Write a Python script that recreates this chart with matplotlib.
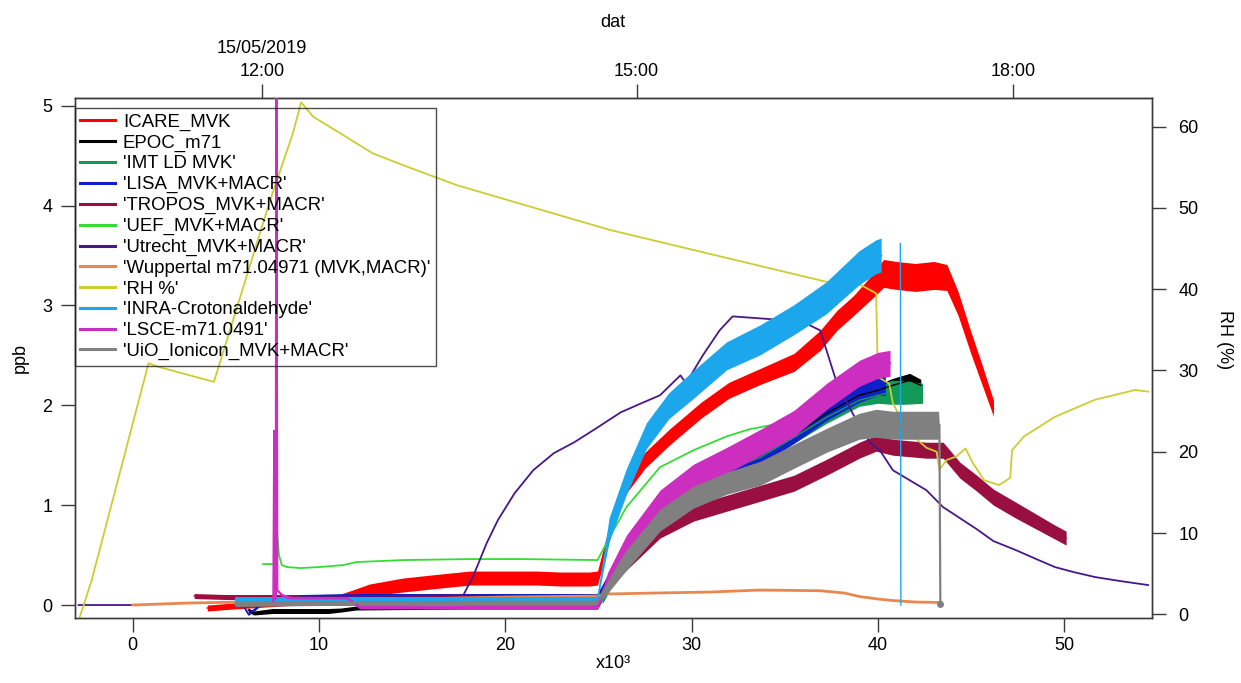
import numpy as np
import matplotlib
matplotlib.use("Agg")
import matplotlib.pyplot as plt
from matplotlib.lines import Line2D

plt.rcParams['font.family'] = ['Liberation Sans', 'DejaVu Sans']

nan = float('nan')

# ---------------- data (x in 10^3 s, ppb / RH %) ----------------
labels = ["ICARE_MVK", "EPOC_m71", "'IMT LD MVK'", "'LISA_MVK+MACR'",
          "'TROPOS_MVK+MACR'", "'UEF_MVK+MACR'", "'Utrecht_MVK+MACR'",
          "'Wuppertal m71.04971 (MVK,MACR)'", "'RH %'", "'INRA-Crotonaldehyde'",
          "'LSCE-m71.0491'", "'UiO_Ionicon_MVK+MACR'"]
colors = ['#ff0000', '#000000', '#11995a', '#1020c8', '#990f40', '#33dd33',
          '#48178a', '#e8874f', '#cccc33', '#1ca6ec', '#cc2ec0', '#808080']

icare_x = [4.0, 4.7, 5.4, 8.0, 11.0, 11.8, 12.7, 14.5, 16.5, 18.1, 20.0, 21.7, 23.0, 24.5, 24.95,
           25.8, 26.5, 27.5, 28.8, 30.5, 32.0, 33.7, 35.5, 36.9, 37.8, 38.7, 39.75, 40.3, 41.0,
           42.0, 43.0, 43.7, 44.3, 45.0, 45.6, 46.2]
icare_y = [-0.03, -0.02, -0.01, 0.02, 0.06, 0.1, 0.15, 0.2, 0.24, 0.27, 0.27, 0.27, 0.26, 0.26, 0.27,
           0.88, 1.2, 1.45, 1.68, 1.95, 2.15, 2.29, 2.43, 2.65, 2.85, 3.0, 3.2, 3.32, 3.3,
           3.28, 3.3, 3.28, 3.02, 2.62, 2.3, 1.97]
icare_w = [0.03, 0.03, 0.03, 0.03, 0.04, 0.05, 0.06, 0.07, 0.07, 0.07, 0.07, 0.07, 0.07, 0.07, 0.07,
           0.08, 0.08, 0.08, 0.08, 0.08, 0.08, 0.08, 0.09, 0.1, 0.1, 0.1, 0.12, 0.14, 0.14,
           0.14, 0.14, 0.13, 0.12, 0.11, 0.1, 0.08]

epoc_x = [6.2, 6.5, 7.5, 8.5, 9.5, 10.5, 11.2, 12.0, 18.0, 24.95, 25.5, 26.5, 28.3, 30.1, 31.9,
          33.7, 35.5, 37.25, 39.0, 40.0, 40.8, 41.7, 42.3]
epoc_y = [-0.05, -0.08, -0.06, -0.06, -0.06, -0.06, -0.05, -0.03, -0.02, -0.02, 0.2, 0.5, 0.92, 1.18, 1.38,
          1.5, 1.7, 1.92, 2.1, 2.15, 2.2, 2.25, 2.2]
epoc_w = [0.02, 0.02, 0.025, 0.025, 0.025, 0.025, 0.02, 0.02, 0.02, 0.02, 0.05, 0.05, 0.05, 0.05, 0.05,
          0.05, 0.05, 0.05, 0.06, 0.06, 0.07, 0.07, 0.06]

imt_x = [25.2, 26.5, 28.3, 30.1, 31.9, 33.7, 35.5, 37.25, 39.0, 40.0, 40.7, 41.5, 42.4]
imt_y = [0.05, 0.5, 0.9, 1.15, 1.35, 1.48, 1.68, 1.88, 2.05, 2.1, 2.13, 2.13, 2.12]
imt_w = [0.04, 0.05, 0.05, 0.05, 0.05, 0.05, 0.06, 0.06, 0.06, 0.08, 0.12, 0.12, 0.1]

lisa_x = [6.0, 6.2, 6.5, 7.0, 9.0, 12.0, 15.0, 18.0, 21.0, 24.95, 25.5, 26.5, 28.3, 30.1, 31.9,
          33.7, 35.5, 37.25, 39.0, 40.0, 40.4]
lisa_y = [-0.03, -0.09, -0.05, 0.03, 0.09, 0.1, 0.1, 0.1, 0.1, 0.1, 0.25, 0.55, 0.98, 1.22, 1.40,
          1.50, 1.72, 1.95, 2.13, 2.2, 2.2]
lisa_w = [0.015, 0.015, 0.015, 0.015, 0.015, 0.015, 0.015, 0.015, 0.015, 0.015, 0.06, 0.08, 0.1, 0.1, 0.1,
          0.1, 0.1, 0.1, 0.1, 0.1, 0.1]

tropos_x = [3.3, 5.0, 8.0, 10.0, 12.0, 15.0, 20.0, 24.95, 25.5, 26.5, 28.3, 30.1, 31.9, 33.7,
            35.5, 37.25, 39.0, 39.9, 40.8, 42.6, 43.5, 44.4, 45.3, 46.2, 47.4, 49.5, 50.1]
tropos_y = [0.09, 0.08, 0.08, 0.08, 0.08, 0.07, 0.07, 0.07, 0.2, 0.42, 0.75, 0.92, 1.02, 1.12,
            1.22, 1.38, 1.55, 1.62, 1.58, 1.55, 1.55, 1.35, 1.22, 1.08, 0.95, 0.73, 0.67]
tropos_w = [0.025, 0.025, 0.025, 0.025, 0.025, 0.025, 0.025, 0.025, 0.05, 0.07, 0.08, 0.08, 0.08, 0.08,
            0.08, 0.08, 0.08, 0.08, 0.08, 0.08, 0.08, 0.08, 0.08, 0.08, 0.08, 0.07, 0.07]

uef_x = [7.0, 7.6, 7.75, 7.85, 8.0, 8.3, 9.0, 10.0, 11.3, 12.0, 14.5, 18.1, 21.0, 24.95, 25.6,
         26.5, 28.3, 30.1, 31.9, 33.1, 35.1, 36.5]
uef_y = [0.41, 0.41, 0.72, 0.5, 0.4, 0.38, 0.37, 0.38, 0.4, 0.43, 0.45, 0.46, 0.46, 0.45, 0.68,
         0.98, 1.38, 1.55, 1.69, 1.76, 1.83, 1.88]

utr_x = [-2.9, 0.1, nan, 9.0, 17.75, 18.3, 19.0, 19.6, 20.5, 21.5, 22.6, 23.7, 24.8, 26.2, 27.3,
         28.3, 29.4, 29.7, 30.6, 31.5, 32.2, 33.7, 35.1, 35.8, 36.9, 37.8, 38.7, 39.6, 40.1, 40.8,
         41.7, 42.6, 43.5, 44.4, 45.3, 46.2, 47.4, 48.5, 49.5, 50.5, 51.65, 53.0, 54.5]
utr_y = [0.0, 0.0, nan, 0.08, 0.1, 0.3, 0.62, 0.85, 1.12, 1.35, 1.52, 1.63, 1.76, 1.93, 2.02,
         2.1, 2.3, 2.22, 2.5, 2.75, 2.89, 2.87, 2.85, 2.85, 2.75, 2.22, 1.9, 1.62, 1.55, 1.35,
         1.25, 1.15, 0.98, 0.87, 0.76, 0.64, 0.55, 0.46, 0.38, 0.33, 0.28, 0.24, 0.2]

wup_x = [0.0, 3.0, 6.0, 10.0, 15.0, 20.0, 24.95, 25.4, 28.0, 31.0, 33.7, 36.9, 38.2, 39.0, 40.0,
         40.8, 42.0, 43.4]
wup_y = [0.0, 0.02, 0.03, 0.05, 0.06, 0.08, 0.09, 0.11, 0.12, 0.13, 0.15, 0.143, 0.12, 0.085, 0.06,
         0.045, 0.03, 0.025]

rh_x = [-2.85, -2.2, 0.85, 1.3, 4.36, 7.4, 8.6, 9.04, 9.7, 11.13, 12.9, 14.7, 17.4, 25.6, 37.25,
        39.1, 39.9, 40.0, 40.6, 40.8, 41.0, 41.9, 42.6, 43.15, 43.3, 43.7, 44.2, 44.7, 45.1, 45.7,
        46.5, 47.1, 47.2, 47.85, 49.5, 51.65, 53.8, 54.5]
rh_y = [-0.4, 4.2, 30.9, 30.5, 28.6, 51.1, 59.2, 63.0, 61.2, 59.2, 56.7, 55.1, 52.8, 47.3, 40.9,
        40.5, 39.5, 29.2, 28.4, 26.0, 25.1, 21.9, 20.5, 20.0, 17.8, 19.0, 19.4, 20.4, 18.6, 16.5,
        15.9, 16.8, 20.2, 21.9, 24.3, 26.4, 27.6, 27.4]

inra_x = [5.5, 8.0, 12.0, 16.0, 20.0, 24.95, 25.6, 26.5, 27.6, 28.8, 30.1, 31.9, 33.7, 35.5, 37.25,
          39.0, 39.9, 40.2, nan, 41.2, 41.21, 41.23]
inra_y = [0.05, 0.05, 0.05, 0.05, 0.05, 0.05, 0.75, 1.22, 1.69, 1.99, 2.2, 2.49, 2.65, 2.85, 3.07,
          3.37, 3.48, 3.5, nan, 3.62, 3.1, 0.0]
inra_w = [0.03, 0.03, 0.03, 0.03, 0.03, 0.03, 0.12, 0.13, 0.13, 0.13, 0.14, 0.14, 0.15, 0.15, 0.16,
          0.17, 0.17, 0.17, nan, 0.0, 0.0, 0.0]

lsce_x = [7.55, 7.6, 7.64, 7.68, 7.71, 7.76, 8.0, 8.5, 11.5, 12.2, 18.0, 24.95, 25.5, 26.5, 28.3,
          30.1, 31.9, 33.7, 35.5, 37.25, 39.0, 40.0, 40.65]
lsce_y = [0.02, 1.75, 0.05, 0.1, 5.6, 0.15, 0.1, 0.07, 0.07, -0.02, -0.02, -0.02, 0.25, 0.58, 1.02,
          1.28, 1.45, 1.63, 1.82, 2.09, 2.32, 2.4, 2.42]
lsce_w = [0.0, 0.0, 0.0, 0.0, 0.0, 0.0, 0.015, 0.015, 0.015, 0.02, 0.02, 0.02, 0.08, 0.12, 0.13,
          0.13, 0.13, 0.13, 0.13, 0.13, 0.13, 0.13, 0.13]

uio_x = [5.5, 10.0, 15.0, 20.0, 24.95, 25.5, 26.5, 28.3, 30.1, 31.9, 33.7, 35.5, 37.25, 39.0, 39.9,
         40.8, 42.0, 43.25, 43.3, 43.35]
uio_y = [0.01, 0.02, 0.02, 0.03, 0.03, 0.2, 0.45, 0.85, 1.08, 1.22, 1.32, 1.49, 1.65, 1.79, 1.82,
         1.8, 1.8, 1.8, 1.8, 0.01]
uio_w = [0.025, 0.025, 0.025, 0.025, 0.025, 0.08, 0.1, 0.11, 0.11, 0.11, 0.12, 0.12, 0.12, 0.13, 0.14,
         0.14, 0.14, 0.14, 0.0, 0.0]

x_ticks = [0, 10, 20, 30, 40, 50]
ppb_ticks = [0, 1, 2, 3, 4, 5]
rh_ticks = [0, 10, 20, 30, 40, 50, 60]
time_tick_pos = [6.95, 27.05, 47.27]
time_tick_labels = ["15/05/2019\n12:00", "15:00", "18:00"]

# ---------------- figure ----------------
W, H = 1241, 683
fig = plt.figure(figsize=(W / 100, H / 100), dpi=100)
ax = fig.add_axes([74.5 / W, 1 - 617.7 / H, (1152 - 74.5) / W, (617.7 - 98.3) / H])
axr = ax.twinx()
axt = ax.twinx()

XLIM = (-3.124, 54.71)
YLIM = (-0.127, 5.074)
RHLIM = (-0.418, 63.49)


def band(axis, x, y, w, color, lw=1.0):
    x = np.asarray(x, float)
    y = np.asarray(y, float)
    w = np.asarray(w, float)
    axis.fill_between(x, y - w, y + w, color=color, lw=0)
    axis.plot(x, y, color=color, lw=lw, solid_joinstyle='miter')


band(ax, icare_x, icare_y, icare_w, colors[0])
band(ax, epoc_x, epoc_y, epoc_w, colors[1])
band(ax, imt_x, imt_y, imt_w, colors[2])
band(ax, lisa_x, lisa_y, lisa_w, colors[3])
band(ax, tropos_x, tropos_y, tropos_w, colors[4])
ax.plot(uef_x, uef_y, color=colors[5], lw=1.3)
ax.plot(utr_x, utr_y, color=colors[6], lw=1.3)
ax.plot(wup_x, wup_y, color=colors[7], lw=2.0)

axr.plot(rh_x, rh_y, color=colors[8], lw=1.3)

band(axt, inra_x, inra_y, inra_w, colors[9])
band(axt, lsce_x, lsce_y, lsce_w, colors[10], lw=1.6)
band(axt, uio_x, uio_y, uio_w, colors[11], lw=1.6)
axt.plot(uio_x[-1:], uio_y[-1:], 'o', color=colors[11], ms=4)

for a in (ax, axt):
    a.set_xlim(*XLIM)
    a.set_ylim(*YLIM)
axr.set_ylim(*RHLIM)
axt.axis('off')

spine_c = '#3a3a3a'
for a in (ax, axr):
    for s in a.spines.values():
        s.set_color(spine_c)
        s.set_linewidth(1.0)

ax.set_xticks(x_ticks)
ax.set_yticks(ppb_ticks)
axr.set_yticks(rh_ticks)
ax.tick_params(axis='both', direction='out', length=10, width=1.0, color=spine_c,
               labelsize=13, pad=4)
axr.tick_params(axis='y', direction='out', length=10, width=1.0, color=spine_c,
                labelsize=13, pad=9)
ax.tick_params(axis='y', pad=6)

sec = ax.secondary_xaxis('top')
sec.set_xticks(time_tick_pos)
sec.set_xticklabels(time_tick_labels, linespacing=1.5)
sec.tick_params(axis='x', direction='out', length=10, width=1.0, color=spine_c,
                labelsize=13, pad=3)
sec.spines['top'].set_color(spine_c)
sec.set_xlabel('dat', fontsize=13, labelpad=9)

ax.set_xlabel('x10\u00b3', fontsize=13)
ax.xaxis.label.set_va('center')
ax.xaxis.set_label_coords(0.5, -(664 - 617.7) / 519.4)

ax.set_ylabel('ppb', fontsize=13)
ax.yaxis.label.set_va('center')
ax.yaxis.set_label_coords((20 - 74.5) / 1077.5, 0.5)

axr.set_ylabel('RH (%)', fontsize=13, rotation=270)
axr.yaxis.label.set_va('center')
axr.yaxis.set_label_coords((1224 - 74.5) / 1077.5, (617.7 - 340) / 519.4)

handles = [Line2D([], [], color=c, lw=2.2) for c in colors]
leg = axt.legend(handles, labels, loc='upper left',
                 bbox_to_anchor=(74.5 / W, 1 - 108 / H), bbox_transform=fig.transFigure,
                 fontsize=13.4, frameon=True, fancybox=False, borderaxespad=0,
                 borderpad=0.3, labelspacing=0.2, handlelength=1.85, handletextpad=0.45)
fr = leg.get_frame()
fr.set_facecolor('none')
fr.set_edgecolor('#222222')
fr.set_linewidth(1.0)

fig.savefig('out.png', dpi=100)
